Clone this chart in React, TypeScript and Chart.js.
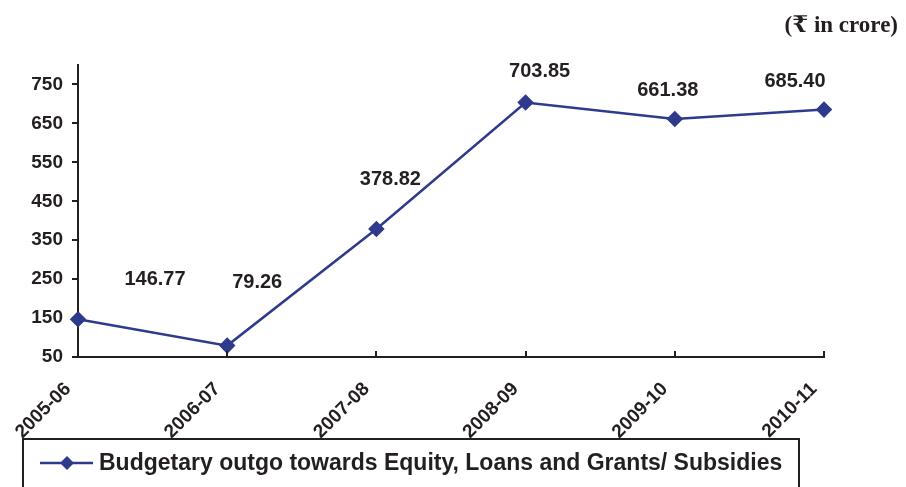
import React, { useEffect, useRef } from "react";
import { Chart, registerables } from "chart.js";

Chart.register(...registerables);

const categories = ["2005-06", "2006-07", "2007-08", "2008-09", "2009-10", "2010-11"];
const values = [146.77, 79.26, 378.82, 703.85, 661.38, 685.4];
const valueLabels = ["146.77", "79.26", "378.82", "703.85", "661.38", "685.40"];
const yTicks = [50, 150, 250, 350, 450, 550, 650, 750];
const seriesName = "Budgetary outgo towards Equity, Loans and Grants/ Subsidies";
const unitNote = "(\u20B9 in crore)";
const yMin = 50;
const yMax = 800;

// label offsets (style) relative to each point
const labelOffsets: [number, number][] = [
  [77, -40],
  [30, -63],
  [14, -49],
  [14, -31],
  [-7, -28],
  [-29, -28],
];

const LINE = "#2E3A8C";
const INK = "#231F20";
const SANS = "'Liberation Sans', Arial, Helvetica, sans-serif";

const overlayPlugin = {
  id: "overlay",
  afterDraw(chart: any) {
    const ctx = chart.ctx;
    const xs = chart.scales.x;
    const area = chart.chartArea;
    ctx.save();
    // inward x ticks
    ctx.strokeStyle = INK;
    ctx.lineWidth = 2;
    for (let i = 1; i < categories.length; i++) {
      const px = Math.round(xs.getPixelForTick(i));
      ctx.beginPath();
      ctx.moveTo(px, area.bottom);
      ctx.lineTo(px, area.bottom - 6);
      ctx.stroke();
    }
    // rotated x labels
    ctx.fillStyle = INK;
    ctx.font = `bold 19px ${SANS}`;
    ctx.textAlign = "right";
    ctx.textBaseline = "middle";
    categories.forEach((c, i) => {
      const px = xs.getPixelForTick(i);
      ctx.save();
      ctx.translate(px - 10, area.bottom + 29);
      ctx.rotate(-Math.PI / 4);
      ctx.fillText(c, 0, 0);
      ctx.restore();
    });
    // data labels
    const meta = chart.getDatasetMeta(0);
    ctx.font = `bold 20px ${SANS}`;
    ctx.textAlign = "center";
    ctx.textBaseline = "middle";
    meta.data.forEach((pt: any, i: number) => {
      const [dx, dy] = labelOffsets[i];
      ctx.fillText(valueLabels[i], pt.x + dx, pt.y + dy);
    });
    // unit note
    ctx.font = `bold 23px 'Liberation Serif', 'DejaVu Serif', 'Times New Roman', serif`;
    ctx.textAlign = "right";
    ctx.textBaseline = "alphabetic";
    ctx.fillText(unitNote, 898, 32);
    // legend box
    ctx.strokeStyle = INK;
    ctx.lineWidth = 2;
    ctx.strokeRect(23, 439, 776, 80);
    ctx.strokeStyle = LINE;
    ctx.lineWidth = 2.5;
    ctx.beginPath();
    ctx.moveTo(40, 463);
    ctx.lineTo(93, 463);
    ctx.stroke();
    ctx.fillStyle = LINE;
    ctx.beginPath();
    ctx.moveTo(67, 456);
    ctx.lineTo(74, 463);
    ctx.lineTo(67, 470);
    ctx.lineTo(60, 463);
    ctx.closePath();
    ctx.fill();
    ctx.fillStyle = INK;
    ctx.font = `bold 23px ${SANS}`;
    ctx.textAlign = "left";
    ctx.textBaseline = "middle";
    ctx.fillText(seriesName, 99, 464);
    ctx.restore();
  },
};

export default function App() {
  const ref = useRef<HTMLCanvasElement>(null);
  useEffect(() => {
    if (!ref.current) return;
    const chart = new Chart(ref.current, {
      type: "line",
      data: {
        labels: categories,
        datasets: [
          {
            label: seriesName,
            data: values,
            borderColor: LINE,
            backgroundColor: LINE,
            borderWidth: 2.5,
            pointStyle: "rectRot",
            pointRadius: 6.5,
            pointBackgroundColor: LINE,
            pointBorderColor: LINE,
            tension: 0,
          },
        ],
      },
      options: {
        responsive: false,
        animation: false,
        layout: { padding: { top: 65, right: 82, left: 0, bottom: 0 } },
        plugins: {
          legend: { display: false },
          tooltip: { enabled: false },
          title: { display: false },
        },
        scales: {
          x: {
            offset: false,
            grid: { display: false, drawOnChartArea: false },
            border: { display: true, color: INK, width: 2 },
            ticks: { display: false },
            afterFit(scale: any) {
              scale.height = 130;
            },
          },
          y: {
            min: yMin,
            max: yMax,
            grid: {
              display: true,
              drawOnChartArea: false,
              drawTicks: true,
              tickLength: 6,
              color: INK,
              lineWidth: 2,
            },
            border: { display: true, color: INK, width: 2 },
            ticks: {
              color: INK,
              font: { family: SANS, size: 19, weight: "bold" },
              padding: 9,
            },
            afterBuildTicks(scale: any) {
              scale.ticks = yTicks.map((v) => ({ value: v }));
            },
            afterFit(scale: any) {
              scale.width = 78;
            },
          },
        },
      },
      plugins: [overlayPlugin],
    });
    return () => chart.destroy();
  }, []);
  return (
    <div style={{ position: "fixed", left: 0, top: 0, width: 906, height: 487, background: "#fff" }}>
      <canvas ref={ref} width={906} height={487} style={{ width: 906, height: 487 }} />
    </div>
  );
}
